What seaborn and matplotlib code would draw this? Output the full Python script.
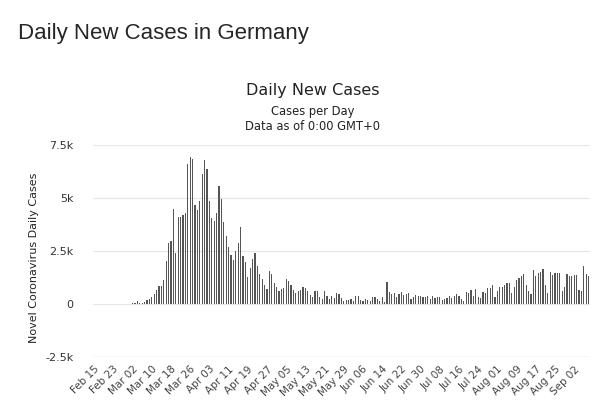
import pandas as pd
import matplotlib.pyplot as plt
import seaborn as sns

# === DADOS ===
start_date = "2020-02-15"
new_cases = [
    0, 0, 0, 0, 0, 0, 0, 0, 0, 0,
    0, 2, 10, 19, 8, 13, 30, 40,
    160, 30, 60, 95, 180, 250, 315, 450, 675, 830,
    830, 1150, 2040, 2870, 2950, 4470, 2400, 4100, 4110, 4200,
    4300, 6590, 6940, 6830, 4670, 4420, 4870, 6150, 6780, 6360,
    4870, 4050, 3900, 4270, 5570, 4950, 3890, 3220, 2700, 2320,
    2090, 2480, 2900, 3640, 2280, 1960, 1260, 1700, 2120, 2430,
    1810,
    1440, 1180, 910, 700, 1540, 1410, 970, 785, 630, 700,
    755, 1180, 1070, 900, 660, 500, 600, 650, 785, 755,
    630, 440, 350, 600, 600, 315, 250, 600, 400, 235,
    390, 300, 500, 470, 300, 160, 170, 190, 235, 150,
    390, 390, 200, 150, 235, 190, 120, 315, 345, 235,
    150, 315, 100, 1050, 550, 450, 500, 315, 450, 550,
    440, 470, 530, 250, 350, 430, 390, 390, 345, 320,
    390, 250, 390, 280, 315, 315, 190, 240, 300, 390,
    300, 390, 470, 390, 250, 160, 550, 500, 660, 400,
    705, 350, 280, 550, 500, 740, 755, 910, 315, 600,
    785, 800, 910, 990, 990, 500, 800, 1150, 1225, 1300,
    1410, 900, 630, 470, 1600, 1335, 1460, 1500, 1650, 900,
    500, 1520, 1370, 1450, 1460, 1450, 600, 800, 1410, 1335,
    1300, 1370, 1370, 675, 600, 1800, 1400, 1300,
]
tick_step = 8
y_ticks = [-2500, 0, 2500, 5000, 7500]
y_tick_labels = ["-2.5k", "0", "2.5k", "5k", "7.5k"]

days = pd.date_range(start_date, periods=len(new_cases), freq="D")
df = pd.DataFrame({"day": days.strftime("%b %d"), "cases": new_cases})

# === FIGURA ===
sns.set_style("white")
plt.rcParams['font.family'] = ['DejaVu Sans']

fig = plt.figure(figsize=(6, 4.09), dpi=100)
ax = fig.add_axes([0.155, 0.127, 0.828, 0.5185])

sns.barplot(data=df, x="day", y="cases", color="#555555", linewidth=0,
            width=0.45, saturation=1, ax=ax)

ax.set_ylim(-2500, 7500)
ax.set_xlim(-0.5, len(new_cases) - 0.5)
ax.set_yticks(y_ticks)
ax.set_yticklabels(y_tick_labels, fontsize=8, color="#333333")
ax.yaxis.grid(True, color="#e6e6e6", linewidth=0.8)
ax.set_axisbelow(True)
ax.axhline(-2500, color="#ccd6eb", linewidth=1)

xt = list(range(0, len(new_cases), tick_step))
ax.set_xticks(xt)
ax.set_xticklabels(df["day"].iloc[xt], rotation=45, ha="right",
                   rotation_mode="anchor", fontsize=7.5, color="#444444")
ax.tick_params(axis="both", length=0)
ax.tick_params(axis="x", pad=5)
ax.tick_params(axis="y", pad=14)
for s in ax.spines.values():
    s.set_visible(False)

ax.set_xlabel("")
ax.set_ylabel("Novel Coronavirus Daily Cases", fontsize=8, color="#222222")
ax.yaxis.set_label_coords(-0.108, 0.47)

# === TÍTULOS ===
fig.text(0.03, 1 - 33 / 409, "Daily New Cases in Germany", fontsize=16,
         family="Liberation Sans", va="center", ha="left")
fig.text(313 / 600, 1 - 90 / 409, "Daily New Cases", fontsize=11.5,
         ha="center", va="center", color="#222222")
fig.text(313 / 600, 1 - 112 / 409, "Cases per Day", fontsize=8.3,
         ha="center", va="center", color="#222222")
fig.text(313 / 600, 1 - 127 / 409, "Data as of 0:00 GMT+0", fontsize=8.3,
         ha="center", va="center", color="#222222")

fig.savefig("out.png", dpi=100)
plt.close(fig)
